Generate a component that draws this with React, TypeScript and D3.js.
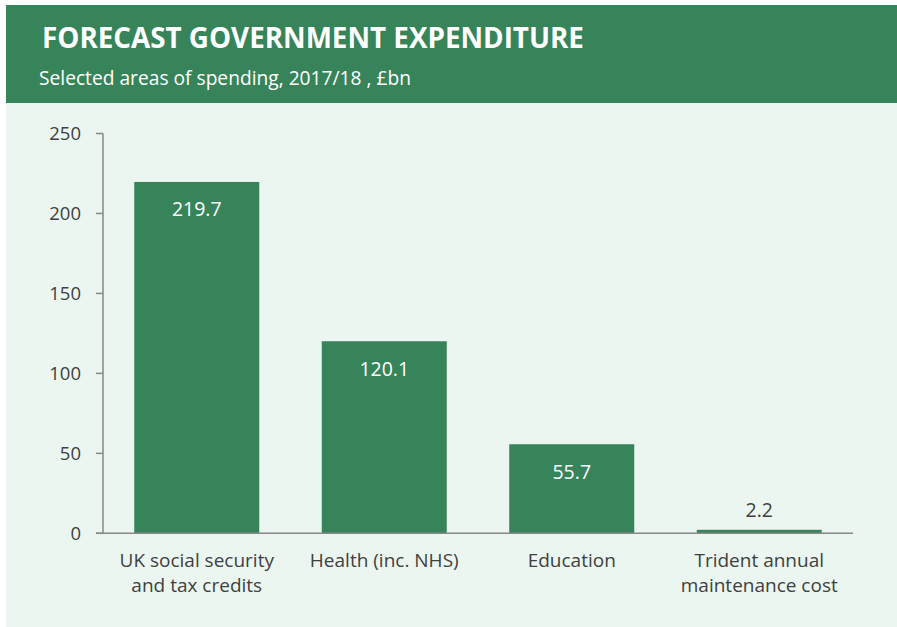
import React from "react";
import * as d3 from "d3";

const categories = [
  ["UK social security", "and tax credits"],
  ["Health (inc. NHS)"],
  ["Education"],
  ["Trident annual", "maintenance cost"],
];
const values = [219.7, 120.1, 55.7, 2.2];
const valueLabels = ["219.7", "120.1", "55.7", "2.2"];
const yTicks = [0, 50, 100, 150, 200, 250];

const W = 897;
const H = 627;
const GREEN = "#37845b";
const BG = "#ecf6f0";
const FONT = "'Open Sans', sans-serif";

export default function App() {
  const x = d3
    .scaleBand<number>()
    .domain(values.map((_, i) => i))
    .range([103, 853])
    .paddingInner(1 / 3)
    .paddingOuter(1 / 6);
  const y = d3.scaleLinear().domain([0, 250]).range([533.3, 133.5]);

  return (
    <svg
      width={W}
      height={H}
      style={{ position: "absolute", left: 0, top: 0 }}
      fontFamily={FONT}
    >
      <rect x={6} y={5} width={W - 6} height={H - 5} fill={BG} />
      <rect x={6} y={5} width={W - 6} height={98} fill={GREEN} />
      <text x={42} y={48.3} fill="#fff" fontSize={27.8} fontWeight={700}>
        FORECAST GOVERNMENT EXPENDITURE
      </text>
      <text x={39} y={85} fill="#fff" fontSize={19.2}>
        Selected areas of spending, 2017/18 , £bn
      </text>

      {values.map((v, i) => {
        const bx = x(i)!;
        const bw = x.bandwidth();
        const top = y(v);
        const inside = y(0) - top > 50;
        return (
          <g key={i}>
            <rect x={bx} y={top} width={bw} height={y(0) - top} fill={GREEN} />
            <text
              x={bx + bw / 2}
              y={inside ? top + 34.5 : top - 12.5}
              textAnchor="middle"
              fontSize={19.5}
              fill={inside ? "#fff" : "#404040"}
            >
              {valueLabels[i]}
            </text>
            {categories[i].map((line, j) => (
              <text
                key={j}
                x={bx + bw / 2}
                y={566.5 + j * 25}
                textAnchor="middle"
                fontSize={19}
                fill="#404040"
              >
                {line}
              </text>
            ))}
          </g>
        );
      })}

      <line x1={103} x2={103} y1={y(250)} y2={y(0)} stroke="#888" strokeWidth={1.5} />
      <line x1={96} x2={853} y1={y(0)} y2={y(0)} stroke="#888" strokeWidth={1.5} />
      {yTicks.map((t) => (
        <g key={t}>
          <line x1={96} x2={103} y1={y(t)} y2={y(t)} stroke="#888" strokeWidth={1.5} />
          <text
            x={81}
            y={y(t) + 6.5}
            textAnchor="end"
            fontSize={18.5}
            fill="#404040"
          >
            {t}
          </text>
        </g>
      ))}
    </svg>
  );
}
